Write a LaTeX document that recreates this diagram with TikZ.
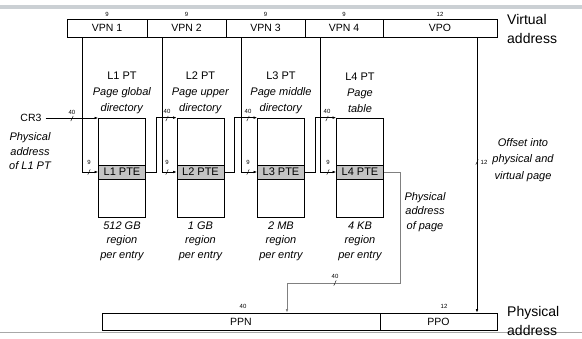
\documentclass[tikz,border=0pt]{standalone}
\usepackage{fontspec}
\setmainfont{Liberation Sans}
\usetikzlibrary{arrows.meta}
\definecolor{ptegray}{HTML}{C4C4C4}
\definecolor{bandgray}{HTML}{CBD0D4}
\definecolor{pagegray}{HTML}{808080}
\definecolor{linegray}{HTML}{A8A8A8}
\begin{document}
\begin{tikzpicture}[x=1pt,y=-1pt,
  fieldbox/.style={draw, line width=0.7pt, minimum height=18pt, inner sep=0pt, font=\fontsize{10.5}{12}\selectfont},
  tablebox/.style={draw, line width=0.7pt, minimum width=47pt, minimum height=99pt, inner sep=0pt},
  pterow/.style={draw, line width=0.7pt, fill=ptegray, minimum width=47pt, minimum height=14pt, inner sep=0pt, font=\fontsize{11}{12}\selectfont},
  num/.style={inner sep=0pt, font=\fontsize{6}{7}\selectfont},
  toplabel/.style={align=center, inner sep=0pt, font=\fontsize{11}{16}\selectfont},
  botlabel/.style={align=center, inner sep=0pt, font=\fontsize{11}{14.5}\selectfont\itshape},
  biglabel/.style={align=left, anchor=west, inner sep=0pt, font=\fontsize{14}{19}\selectfont},
  conn/.style={line width=0.6pt},
  arr/.style={-{Latex[length=3.5pt,width=2.6pt]}},
  pageconn/.style={line width=0.7pt, draw=pagegray},
  busmark/.pic={\draw[line width=0.4pt] (-1.2,2.6) -- (1.2,-2.6);}
]
\useasboundingbox (0,0) rectangle (582,339);
% slide decorations
\fill[bandgray] (0,5) rectangle (582,9.5);
\draw[linegray, line width=0.8pt] (0,332) -- (582,332);

% virtual address
\node[fieldbox, minimum width=80pt] (vpn1) at (107,28) {VPN 1};
\node[fieldbox, minimum width=79pt] (vpn2) at (186.5,28) {VPN 2};
\node[fieldbox, minimum width=79pt] (vpn3) at (265.5,28) {VPN 3};
\node[fieldbox, minimum width=78pt] (vpn4) at (344,28) {VPN 4};
\node[fieldbox, minimum width=114pt] (vpo) at (440,28) {VPO};
\node[num] (w1) at (107,14) {9};
\node[num] (w2) at (186.5,14) {9};
\node[num] (w3) at (265.5,14) {9};
\node[num] (w4) at (344,14) {9};
\node[num] (w5) at (440,14) {12};
\node[biglabel] (va) at (507,28.5) {Virtual\\address};

% physical address
\node[fieldbox, minimum width=278pt, minimum height=17pt] (ppn) at (241,321.5) {PPN};
\node[fieldbox, minimum width=117pt, minimum height=17pt] (ppo) at (438.5,321.5) {PPO};
\node[num] (p1) at (243,306.5) {40};
\node[num] (p2) at (444,306.5) {12};
\node[biglabel] (pa) at (507,320.5) {Physical\\address};

% page tables
\node[tablebox] (l1tab) at (122,167.5) {};
\node[tablebox] (l2tab) at (200.5,167.5) {};
\node[tablebox] (l3tab) at (281,167.5) {};
\node[tablebox] (l4tab) at (360,167.5) {};
\node[pterow] (l1pte) at (122,172) {L1 PTE};
\node[pterow] (l2pte) at (200.5,172) {L2 PTE};
\node[pterow] (l3pte) at (281,172) {L3 PTE};
\node[pterow] (l4pte) at (360,172) {L4 PTE};

\node[toplabel] (t1) at (122,93) {L1 PT\\\textit{Page global}\\\textit{directory}};
\node[toplabel] (t2) at (200.5,93) {L2 PT\\\textit{Page upper}\\\textit{directory}};
\node[toplabel] (t3) at (281,93) {L3 PT\\\textit{Page middle}\\\textit{directory}};
\node[toplabel] (t4) at (360,93) {L4 PT\\\textit{Page}\\\textit{table}};

\node[botlabel] (b1) at (122,241) {512 GB\\region\\per entry};
\node[botlabel] (b2) at (200.5,241) {1 GB\\region\\per entry};
\node[botlabel] (b3) at (281,241) {2 MB\\region\\per entry};
\node[botlabel] (b4) at (360,241) {4 KB\\region\\per entry};

% CR3
\node[inner sep=0pt, font=\fontsize{10.5}{12}\selectfont] (cr3) at (31,118) {CR3};
\node[botlabel] (cr3l) at (30,151.5) {Physical\\address\\of L1 PT};
\draw[conn, arr] (cr3.east) ++(4,0) coordinate (cr3s) -- (cr3s -| l1tab.west);
\pic at (72,118.5) {busmark};
\node[num] (n40a) at (72,112) {40};

% x positions of vertical lines
\coordinate (x1) at (82,0);
\coordinate (x2) at (162,0);
\coordinate (x3) at (241,0);
\coordinate (x4) at (320,0);
\coordinate (x5) at (477,0);
\coordinate (c1) at (156,0);
\coordinate (c2) at (234,0);
\coordinate (c3) at (315,0);

% VPN index lines
\draw[conn, arr] (vpn1.south -| x1) |- (l1pte.west);
\draw[conn, arr] (vpn2.south -| x2) |- (l2pte.west);
\draw[conn, arr] (vpn3.south -| x3) |- (l3pte.west);
\draw[conn, arr] (vpn4.south -| x4) |- (l4pte.west);
\pic at (89,172) {busmark};  \node[num] (n9a) at (89,162.5) {9};
\pic at (167,172) {busmark}; \node[num] (n9b) at (167,162.5) {9};
\pic at (248,172) {busmark}; \node[num] (n9c) at (248,162.5) {9};
\pic at (328,172) {busmark}; \node[num] (n9d) at (328,162.5) {9};

% PTE to next table
\draw[conn, arr] (l1pte.east) -- (l1pte.east -| c1) |- (l2tab.north west);
\draw[conn, arr] (l2pte.east) -- (l2pte.east -| c2) |- (l3tab.north west);
\draw[conn, arr] (l3pte.east) -- (l3pte.east -| c3) |- (l4tab.north west);
\pic at (167,118.5) {busmark}; \node[num] (n40b) at (167,111) {40};
\pic at (248,118.5) {busmark}; \node[num] (n40c) at (248,111) {40};
\pic at (327,118.5) {busmark}; \node[num] (n40d) at (327,111) {40};

% physical address of page
\coordinate (c4) at (400,283);
\coordinate (c5) at (287,283);
\draw[pageconn, arr] (l4pte.east) -| (c4) -- (c5) -- (c5 |- ppn.north);
\pic at (335,283) {busmark}; \node[num] (n40e) at (335,276.5) {40};
\node[botlabel] (pal) at (425,212) {Physical\\address\\of page};

% VPO offset
\draw[conn, arr] (vpo.south -| x5) -- (x5 |- ppo.north);
\pic at (477,162) {busmark}; \node[num] (n12) at (484,162) {12};
\node[botlabel, font=\fontsize{11}{16.5}\selectfont\itshape] (off) at (523,160) {Offset into\\physical and\\virtual page};
\end{tikzpicture}
\end{document}
